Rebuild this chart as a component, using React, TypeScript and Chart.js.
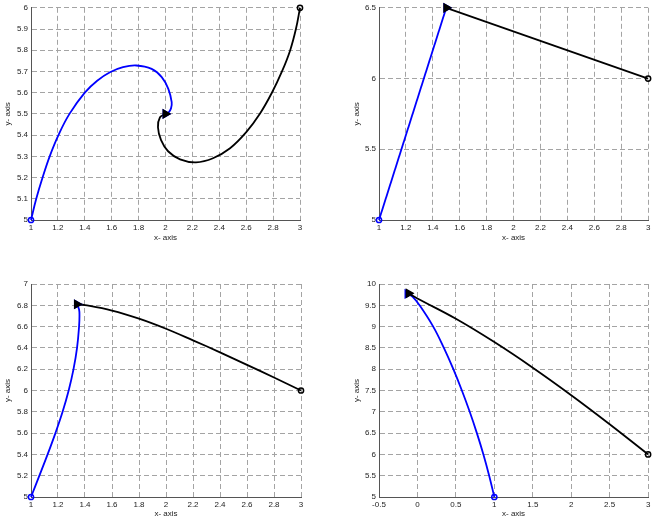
import React, { useEffect, useRef } from "react";
import { Chart, registerables } from "chart.js";

Chart.register(...registerables);

// ---------- Panel A (top-left) ----------
const A_BLUE_X = [1.0, 1.039, 1.086, 1.139, 1.204, 1.286, 1.4, 1.492, 1.587, 1.684, 1.783, 1.897, 1.972, 2.021, 2.046, 2.041, 2.022, 2.0];
const A_BLUE_Y = [5.0, 5.1, 5.2, 5.3, 5.4, 5.5, 5.6, 5.656, 5.696, 5.72, 5.728, 5.712, 5.673, 5.618, 5.555, 5.526, 5.506, 5.5];
const A_BLACK_X = [3.0, 2.97, 2.926, 2.866, 2.792, 2.703, 2.599, 2.48, 2.353, 2.227, 2.108, 2.019, 1.967, 1.944, 1.959, 2.0];
const A_BLACK_Y = [6.0, 5.901, 5.798, 5.7, 5.601, 5.502, 5.413, 5.338, 5.291, 5.272, 5.286, 5.324, 5.376, 5.437, 5.484, 5.5];
const A_X_TICKS = [1, 1.2, 1.4, 1.6, 1.8, 2, 2.2, 2.4, 2.6, 2.8, 3];
const A_Y_TICKS = [5, 5.1, 5.2, 5.3, 5.4, 5.5, 5.6, 5.7, 5.8, 5.9, 6];

// ---------- Panel B (top-right) ----------
const B_BLUE_X = [1.0, 1.5];
const B_BLUE_Y = [5.0, 6.5];
const B_BLACK_X = [3.0, 1.5];
const B_BLACK_Y = [6.0, 6.5];
const B_X_TICKS = [1, 1.2, 1.4, 1.6, 1.8, 2, 2.2, 2.4, 2.6, 2.8, 3];
const B_Y_TICKS = [5, 5.5, 6, 6.5];

// ---------- Panel C (bottom-left) ----------
const C_BLUE_X = [1.0, 1.062, 1.123, 1.181, 1.234, 1.279, 1.315, 1.341, 1.356, 1.359, 1.356, 1.34];
const C_BLUE_Y = [5.0, 5.2, 5.4, 5.6, 5.8, 6.0, 6.2, 6.4, 6.6, 6.7, 6.76, 6.81];
const C_BLACK_X = [3.0, 2.8, 2.6, 2.4, 2.2, 2.0, 1.8, 1.6, 1.4, 1.34];
const C_BLACK_Y = [6.0, 6.122, 6.241, 6.358, 6.471, 6.58, 6.675, 6.751, 6.802, 6.81];
const C_X_TICKS = [1, 1.2, 1.4, 1.6, 1.8, 2, 2.2, 2.4, 2.6, 2.8, 3];
const C_Y_TICKS = [5, 5.2, 5.4, 5.6, 5.8, 6, 6.2, 6.4, 6.6, 6.8, 7];

// ---------- Panel D (bottom-right) ----------
const D_BLUE_X = [1.0, 0.933, 0.858, 0.773, 0.68, 0.578, 0.467, 0.344, 0.205, 0.028, -0.062, -0.13];
const D_BLUE_Y = [5.0, 5.5, 6.0, 6.5, 7.0, 7.5, 8.0, 8.5, 9.0, 9.5, 9.7, 9.77];
const D_BLACK_X = [3.0, 2.5, 2.0, 1.5, 1.0, 0.5, 0.0, -0.115];
const D_BLACK_Y = [6.0, 6.709, 7.39, 8.035, 8.636, 9.183, 9.66, 9.78];
const D_X_TICKS = [-0.5, 0, 0.5, 1, 1.5, 2, 2.5, 3];
const D_Y_TICKS = [5, 5.5, 6, 6.5, 7, 7.5, 8, 8.5, 9, 9.5, 10];

const X_TITLE = "x- axis";
const Y_TITLE = "y- axis";

const BLUE = "#0000ff";
const BLACK = "#000000";
const GRID = "#a4a4a4";
const AXIS = "#555555";
const TEXT = "#222222";
const FONT_FAMILY = "'Liberation Sans', Arial, Helvetica, sans-serif";

type Pt = { x: number; y: number };
const zip = (xs: number[], ys: number[]): Pt[] => xs.map((x, i) => ({ x, y: ys[i] }));

type PanelCfg = {
  left: number; top: number; width: number; height: number;
  padTop: number; padRight: number; yWidth: number; xHeight: number;
  yTitlePad: number; xTitlePad: number;
  xTicks: number[]; yTicks: number[];
  blue: Pt[]; black: Pt[]; tension: number;
};

const PANELS: PanelCfg[] = [
  { left: 0, top: 0, width: 327, height: 260, padTop: 7, padRight: 27, yWidth: 31, xHeight: 40, yTitlePad: 3.2, xTitlePad: 17.2,
    xTicks: A_X_TICKS, yTicks: A_Y_TICKS, blue: zip(A_BLUE_X, A_BLUE_Y), black: zip(A_BLACK_X, A_BLACK_Y), tension: 0.4 },
  { left: 327, top: 0, width: 327, height: 260, padTop: 7, padRight: 5, yWidth: 52, xHeight: 40, yTitlePad: 25.2, xTitlePad: 17.2,
    xTicks: B_X_TICKS, yTicks: B_Y_TICKS, blue: zip(B_BLUE_X, B_BLUE_Y), black: zip(B_BLACK_X, B_BLACK_Y), tension: 0 },
  { left: 0, top: 260, width: 327, height: 261, padTop: 24, padRight: 26, yWidth: 31, xHeight: 24, yTitlePad: 3.2, xTitlePad: 2.2,
    xTicks: C_X_TICKS, yTicks: C_Y_TICKS, blue: zip(C_BLUE_X, C_BLUE_Y), black: zip(C_BLACK_X, C_BLACK_Y), tension: 0.4 },
  { left: 327, top: 260, width: 327, height: 261, padTop: 24, padRight: 5, yWidth: 52, xHeight: 24, yTitlePad: 25.2, xTitlePad: 2.0,
    xTicks: D_X_TICKS, yTicks: D_Y_TICKS, blue: zip(D_BLUE_X, D_BLUE_Y), black: zip(D_BLACK_X, D_BLACK_Y), tension: 0.4 },
];

function Panel({ cfg }: { cfg: PanelCfg }) {
  const ref = useRef<HTMLCanvasElement | null>(null);
  useEffect(() => {
    if (!ref.current) return;
    const tickFont = { family: FONT_FAMILY, size: 8 };
    const titleFont = { family: FONT_FAMILY, size: 8 };
    const { blue, black } = cfg;
    const marker = (pt: Pt, color: string, style: string, r: number, rot: number, fillC: string) => ({
      data: [pt],
      showLine: false,
      pointStyle: style,
      pointRadius: r,
      pointRotation: rot,
      pointBorderColor: color,
      pointBackgroundColor: fillC,
      pointBorderWidth: 1.5,
      borderColor: color,
      backgroundColor: fillC,
      clip: false,
    });
    const line = (pts: Pt[], color: string) => ({
      data: pts,
      showLine: true,
      borderColor: color,
      backgroundColor: color,
      borderWidth: 1.8,
      pointRadius: 0,
      tension: cfg.tension,
      fill: false,
      clip: false,
    });
    const chart = new Chart(ref.current, {
      type: "scatter",
      data: {
        datasets: [
          marker(black[black.length - 1], BLACK, "triangle", 4.4, 90, BLACK),
          marker(blue[blue.length - 1], BLUE, "triangle", 4.4, 90, BLUE),
          marker(black[0], BLACK, "circle", 2.6, 0, "rgba(255,255,255,0)"),
          marker(blue[0], BLUE, "circle", 2.6, 0, "rgba(255,255,255,0)"),
          line(black, BLACK),
          line(blue, BLUE),
        ] as any,
      },
      options: {
        responsive: false,
        animation: false,
        events: [],
        layout: { padding: { left: 0, top: cfg.padTop, right: cfg.padRight, bottom: 0 } },
        plugins: { legend: { display: false }, tooltip: { enabled: false } },
        scales: {
          x: {
            type: "linear",
            position: "bottom",
            min: cfg.xTicks[0],
            max: cfg.xTicks[cfg.xTicks.length - 1],
            afterBuildTicks: (s: any) => { s.ticks = cfg.xTicks.map((v) => ({ value: v })); },
            afterFit: (s: any) => { s.height = cfg.xHeight; },
            ticks: { callback: (v: any) => String(v), font: tickFont, color: TEXT, padding: 3, maxRotation: 0, autoSkip: false },
            grid: { color: GRID, lineWidth: 1, drawTicks: false },
            border: { display: true, color: AXIS, width: 1, dash: [5, 3] },
            title: { display: true, text: X_TITLE, font: titleFont, color: TEXT, padding: { top: 0, bottom: cfg.xTitlePad } },
          },
          y: {
            type: "linear",
            position: "left",
            min: cfg.yTicks[0],
            max: cfg.yTicks[cfg.yTicks.length - 1],
            afterBuildTicks: (s: any) => { s.ticks = cfg.yTicks.map((v) => ({ value: v })); },
            afterFit: (s: any) => { s.width = cfg.yWidth; },
            ticks: { callback: (v: any) => String(v), font: tickFont, color: TEXT, padding: 3, autoSkip: false },
            grid: { color: GRID, lineWidth: 1, drawTicks: false },
            border: { display: true, color: AXIS, width: 1, dash: [5, 3] },
            title: { display: true, text: Y_TITLE, font: titleFont, color: TEXT, padding: { top: cfg.yTitlePad, bottom: 0 } },
          },
        },
      } as any,
    });
    return () => chart.destroy();
  }, [cfg]);
  return (
    <canvas
      ref={ref}
      width={cfg.width}
      height={cfg.height}
      style={{ position: "absolute", left: cfg.left, top: cfg.top, width: cfg.width, height: cfg.height }}
    />
  );
}

export default function App() {
  return (
    <div style={{ position: "fixed", left: 0, top: 0, width: 654, height: 521, background: "#ffffff", overflow: "hidden" }}>
      {PANELS.map((p, i) => (
        <Panel key={i} cfg={p} />
      ))}
    </div>
  );
}
